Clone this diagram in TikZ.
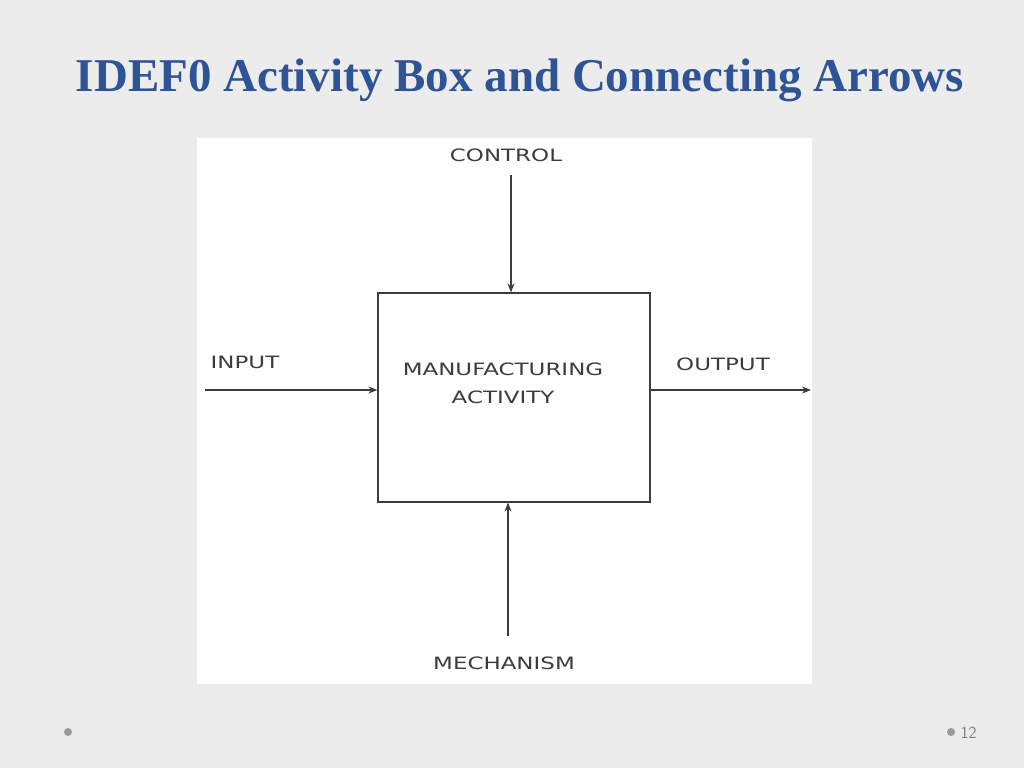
\documentclass[tikz,border=0pt]{standalone}
\usepackage{fontspec}
\setmainfont{Liberation Serif}
\newfontfamily\labelfont[FakeStretch=1.35]{DejaVu Sans}
\usetikzlibrary{arrows.meta}
\definecolor{titleblue}{RGB}{47,84,150}
\definecolor{slidegray}{RGB}{236,236,236}
\definecolor{inkgray}{RGB}{60,60,60}
\tikzset{
  lbl/.style={font=\labelfont\fontsize{17}{19}\selectfont,text=inkgray,inner sep=0pt},
  flow/.style={draw=inkgray,line width=1.2pt,-{Stealth[length=9pt,width=7pt]}},
  dot/.style={circle,fill=gray!80,inner sep=0pt,minimum size=8pt}
}
\begin{document}
\begin{tikzpicture}[x={1pt},y={-1pt}]
\fill[slidegray] (0,0) rectangle (1024,768);
\useasboundingbox (0,0) rectangle (1024,768);
\fill[white] (197,138) rectangle (812,684);
\node[font=\bfseries\fontsize{47}{52}\selectfont,text=titleblue] (title) at (520,80) {IDEF0 Activity Box and Connecting Arrows};
% activity box
\node[draw=inkgray,line width=1.2pt,minimum width=272pt,minimum height=209pt,inner sep=0pt] (act) at (514,397.5) {};
\node[lbl,align=center] (actname) at (503,383) {MANUFACTURING\\[9pt]ACTIVITY};
% arrows
\coordinate (ctrl) at (511,175);
\coordinate (inp) at (205,390);
\coordinate (outp) at (811,390);
\coordinate (mech) at (508,636);
\node[lbl] (ctrllbl) at (506,155) {CONTROL};
\node[lbl] (inplbl) at (245,362) {INPUT};
\node[lbl] (outplbl) at (723,364) {OUTPUT};
\node[lbl] (mechlbl) at (504,663) {MECHANISM};
\draw[flow] (ctrl) -- (ctrl |- act.north);
\draw[flow] (inp) -- (inp -| act.west);
\draw[flow] (act.east |- outp) -- (outp);
\draw[flow] (mech) -- (mech |- act.south);
% footer
\node[dot] (ldot) at (68,732) {};
\node[dot] (rdot) at (951,732) {};
\node[anchor=west,text=gray,font=\sffamily\fontsize{17}{19}\selectfont] (pg) at (957,733) {12};
\end{tikzpicture}
\end{document}
